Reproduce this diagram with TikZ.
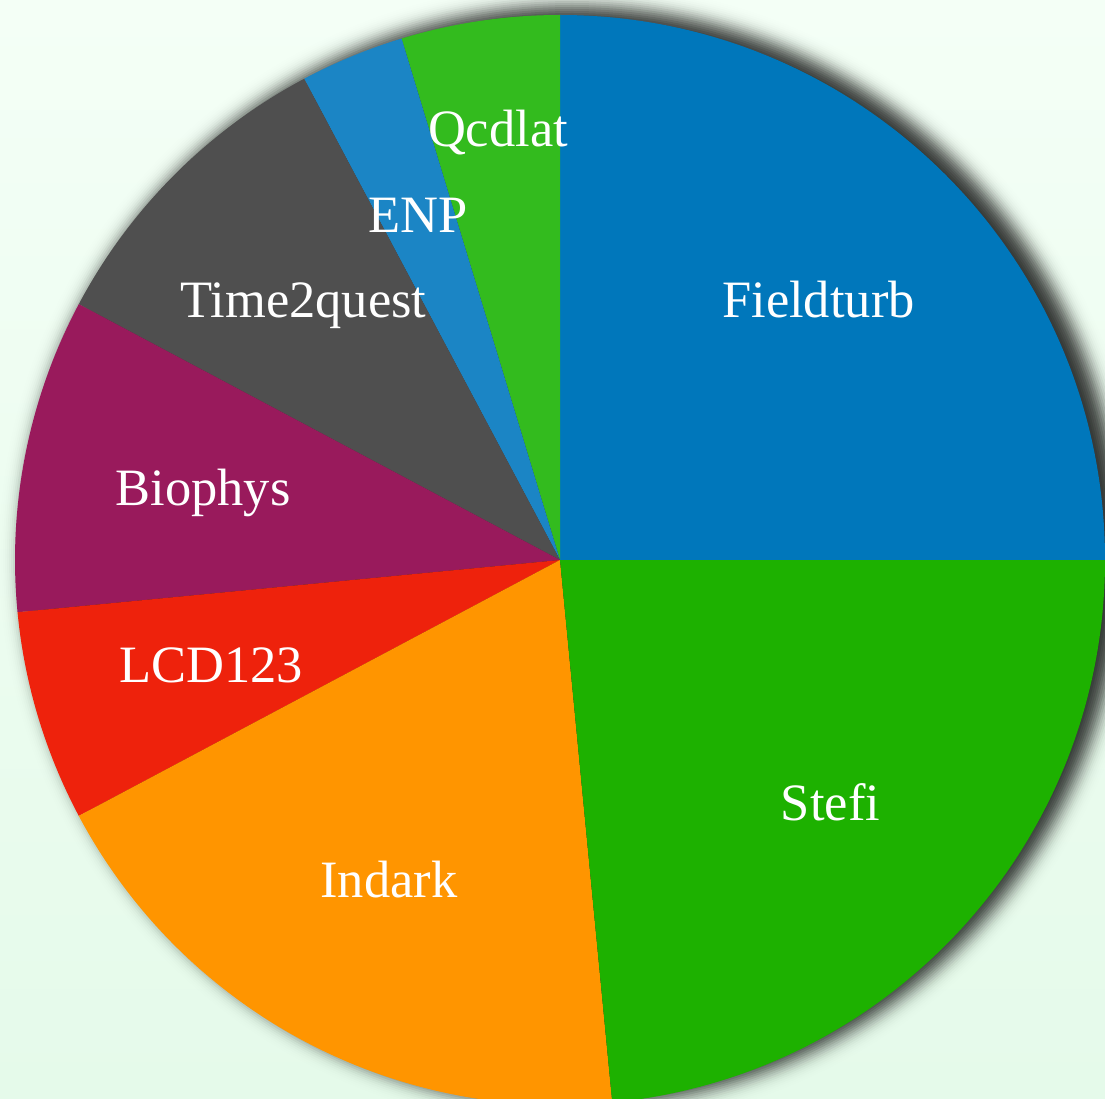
\documentclass[tikz,border=0pt]{standalone}
\usepackage{fontspec}
\setmainfont{Liberation Serif}
\definecolor{bgtop}{HTML}{F4FFF6}
\definecolor{bgbot}{HTML}{E5FAEA}
\definecolor{cField}{HTML}{0077BB}
\definecolor{cStefi}{HTML}{1DB100}
\definecolor{cIndark}{HTML}{FF9500}
\definecolor{cLCD}{HTML}{EE220C}
\definecolor{cBio}{HTML}{991A5C}
\definecolor{cTime}{HTML}{4F4F4F}
\definecolor{cENP}{HTML}{1B85C5}
\definecolor{cQcd}{HTML}{33BB1E}
\begin{document}
\begin{tikzpicture}[x=1pt,y=1pt,
  lbl/.style={text=white,anchor=base,inner sep=0pt,font=\fontsize{52.5}{60}\selectfont}]
\def\R{545}
\useasboundingbox (-560,-538) rectangle (545,560);
\clip (-560,-538) rectangle (545,560);
\shade[top color=bgtop,bottom color=bgbot] (-560,-538) rectangle (545,560);
% soft shadow (gaussian-like stack of circles)
\foreach \d in {-30,-28,...,30}{
  \pgfmathsetmacro{\op}{0.115*exp(-(\d*\d)/200)}
  \fill[black,opacity=\op] (12,4) circle ({\R+\d});
}
% slices
\fill[cField] (0,0) -- (0:\R) arc (0:90:\R) -- cycle;
\fill[cQcd] (0,0) -- (90:\R) arc (90:106.9:\R) -- cycle;
\fill[cENP] (0,0) -- (106.9:\R) arc (106.9:118:\R) -- cycle;
\fill[cTime] (0,0) -- (118:\R) arc (118:152:\R) -- cycle;
\fill[cBio] (0,0) -- (152:\R) arc (152:185.5:\R) -- cycle;
\fill[cLCD] (0,0) -- (185.5:\R) arc (185.5:208:\R) -- cycle;
\fill[cIndark] (0,0) -- (208:\R) arc (208:275.5:\R) -- cycle;
\fill[cStefi] (0,0) -- (275.5:\R) arc (275.5:360:\R) -- cycle;
% labels (image coords X,Y -> X-560, 560-Y)
\node[lbl] (fieldturb) at (258.5,242) {Fieldturb};
\node[lbl] (stefi) at (270.5,-260) {Stefi};
\node[lbl] (indark) at (-171,-337) {Indark};
\node[lbl] (lcd) at (-349,-122) {LCD123};
\node[lbl] (biophys) at (-357,55) {Biophys};
\node[lbl] (time) at (-256.5,242) {Time2quest};
\node[lbl] (enp) at (-141.5,327) {ENP};
\node[lbl] (qcdlat) at (-62,413) {Qcdlat};
\end{tikzpicture}
\end{document}
